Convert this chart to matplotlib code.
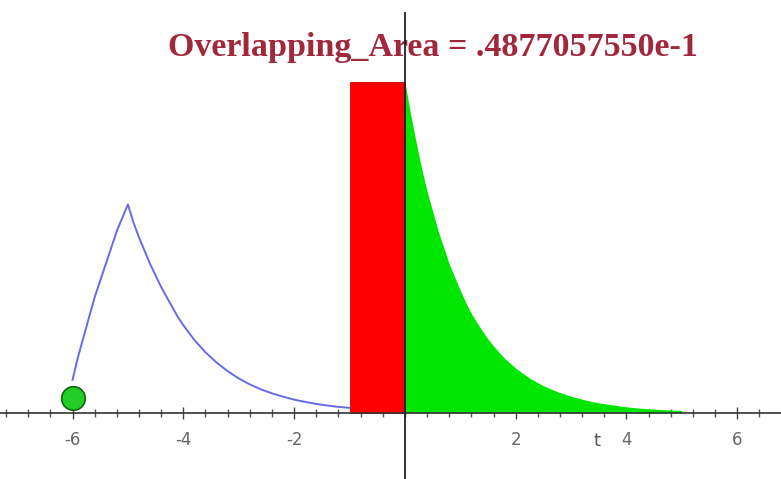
import matplotlib
matplotlib.use("Agg")
import matplotlib.pyplot as plt
from matplotlib.ticker import MultipleLocator

# Data
blue_t = [-6.0, -5.9, -5.8, -5.7, -5.6, -5.5, -5.4, -5.3, -5.2, -5.1, -5.0,
          -4.9, -4.8, -4.7, -4.6, -4.5, -4.4, -4.3, -4.2, -4.1, -4.0,
          -3.8, -3.6, -3.4, -3.2, -3.0, -2.8, -2.6, -2.4, -2.2, -2.0,
          -1.8, -1.6, -1.4, -1.2, -1.0]
blue_y = [0.10, 0.17, 0.23, 0.29, 0.35, 0.40, 0.45, 0.50, 0.55, 0.59, 0.63,
          0.575, 0.53, 0.49, 0.45, 0.415, 0.38, 0.35, 0.32, 0.29, 0.265,
          0.22, 0.183, 0.152, 0.126, 0.104, 0.086, 0.071, 0.059, 0.049, 0.040,
          0.033, 0.027, 0.022, 0.018, 0.015]
green_t = [0.0, 0.1, 0.2, 0.3, 0.4, 0.5, 0.6, 0.7, 0.8, 0.9, 1.0, 1.1, 1.2, 1.3, 1.4,
           1.5, 1.6, 1.7, 1.8, 1.9, 2.0, 2.25, 2.5, 2.75, 3.0, 3.25, 3.5, 3.75, 4.0,
           4.25, 4.5, 4.75, 5.0]
green_y = [1.0, 0.905, 0.82, 0.74, 0.67, 0.61, 0.55, 0.50, 0.45, 0.41, 0.37, 0.333,
           0.30, 0.273, 0.247, 0.223, 0.202, 0.183, 0.165, 0.15, 0.135, 0.105, 0.082,
           0.064, 0.05, 0.039, 0.030, 0.024, 0.018, 0.014, 0.011, 0.009, 0.007]
rect_x0, rect_x1, rect_h = -1.0, 0.0, 1.0
point_t, point_y = -6.0, 0.045
xticks = [-6, -4, -2, 2, 4, 6]
title = "Overlapping_Area = .4877057550e-1"

fig = plt.figure(figsize=(7.81, 4.79), dpi=100)
ax = fig.add_axes([0, 0, 1, 1])
ax.set_xlim(-7.31, 6.79)
ax.set_ylim(-0.20, 1.248)

ax.fill_between(green_t, 0, green_y, color="#00e600", linewidth=0, zorder=2)
ax.bar([(rect_x0 + rect_x1) / 2], [rect_h], width=rect_x1 - rect_x0, color="#ff0000",
       edgecolor="#cc0000", linewidth=0.6, zorder=2)
ax.plot(blue_t, blue_y, color="#6a6ae6", linewidth=1.4, zorder=3)
ax.plot([point_t], [point_y], marker="o", markersize=17, markerfacecolor="#22cc22",
        markeredgecolor="#116611", markeredgewidth=1.2, linestyle="none", zorder=4)

for s in ["top", "right"]:
    ax.spines[s].set_visible(False)
ax.spines["left"].set_position(("data", 0))
ax.spines["bottom"].set_position(("data", 0))
ax.spines["left"].set_bounds(-0.2, 1.21)
ax.spines["left"].set_color("#222222")
ax.spines["bottom"].set_color("#333333")
ax.spines["left"].set_linewidth(1.3)
ax.spines["bottom"].set_linewidth(1.2)
ax.spines["left"].set_zorder(5)

ax.set_yticks([])
ax.set_xticks(xticks)
ax.set_xticklabels([str(v) for v in xticks])
ax.xaxis.set_minor_locator(MultipleLocator(0.4))
ax.tick_params(axis="x", which="major", direction="inout", length=8, width=1, colors="#444444",
               labelsize=12, pad=9, labelcolor="#666666")
ax.tick_params(axis="x", which="minor", direction="inout", length=6, width=1, colors="#555555")

ax.text(3.46, -0.085, "t", fontsize=13, color="#555555", ha="center", va="center")
ax.text(0.5, 1.105, title, fontsize=24.5, fontweight="bold", family="Liberation Serif",
        color="#a0283a", ha="center", va="center")

fig.savefig("out.png", dpi=100)
